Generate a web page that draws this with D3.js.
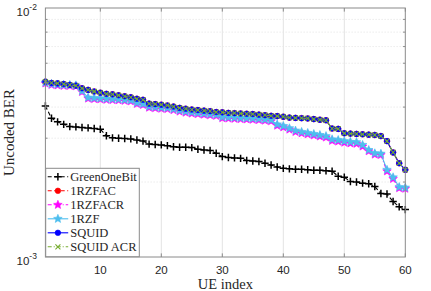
<!DOCTYPE html>
<html>
<head>
<meta charset="utf-8">
<script src="https://cdn.jsdelivr.net/npm/d3@7"></script>
<style>
  body { margin: 0; background: #fff; }
  svg { display: block; }
</style>
</head>
<body>
<div id="chart"></div>
<script>
// UE index 1..60
var ueIndex = d3.range(1, 61);

// uncoded BER per UE, in units of 1e-3
var greenOneBit = [4.04, 3.61, 3.49, 3.41, 3.34, 3.33, 3.31, 3.30, 3.28, 3.26,
  3.07, 3.01, 3.00, 2.99, 2.98, 2.95, 2.92, 2.84, 2.83, 2.82,
  2.80, 2.77, 2.76, 2.76, 2.75, 2.71, 2.69, 2.68, 2.61, 2.53,
  2.51, 2.50, 2.49, 2.44, 2.43, 2.42, 2.38, 2.34, 2.30, 2.27,
  2.26, 2.25, 2.25, 2.24, 2.23, 2.23, 2.22, 2.21, 2.11, 2.09,
  2.01, 2.00, 1.98, 1.97, 1.92, 1.80, 1.79, 1.67, 1.59, 1.55];

var squid = [5.06, 5.00, 4.98, 4.95, 4.91, 4.88, 4.76, 4.69, 4.62, 4.57,
  4.52, 4.50, 4.46, 4.42, 4.38, 4.32, 4.28, 4.13, 4.11, 4.09,
  4.06, 4.02, 3.97, 3.94, 3.91, 3.89, 3.87, 3.85, 3.82, 3.81,
  3.79, 3.78, 3.77, 3.76, 3.75, 3.73, 3.71, 3.69, 3.68, 3.66,
  3.63, 3.62, 3.61, 3.60, 3.58, 3.56, 3.54, 3.28, 3.27, 3.14,
  3.13, 3.12, 3.11, 3.10, 3.09, 3.06, 2.92, 2.63, 2.38, 2.24];

var rzfac = [5.06, 5.00, 4.98, 4.95, 4.91, 4.88, 4.76, 4.69, 4.62, 4.57,
  4.52, 4.50, 4.46, 4.42, 4.38, 4.32, 4.28, 4.13, 4.11, 4.09,
  4.06, 4.02, 3.97, 3.94, 3.91, 3.89, 3.87, 3.85, 3.82, 3.81,
  3.79, 3.78, 3.77, 3.76, 3.75, 3.73, 3.71, 3.69, 3.68, 3.66,
  3.63, 3.62, 3.61, 3.60, 3.58, 3.56, 3.54, 3.28, 3.27, 3.14,
  3.13, 3.12, 3.11, 3.10, 3.09, 3.06, 2.92, 2.63, 2.38, 2.24];

var squidAcr = [5.06, 5.00, 4.98, 4.95, 4.91, 4.88, 4.76, 4.69, 4.62, 4.57,
  4.52, 4.50, 4.46, 4.42, 4.38, 4.32, 4.28, 4.13, 4.11, 4.09,
  4.06, 4.02, 3.97, 3.94, 3.91, 3.89, 3.87, 3.85, 3.82, 3.81,
  3.79, 3.78, 3.77, 3.76, 3.75, 3.73, 3.71, 3.69, 3.68, 3.66,
  3.63, 3.62, 3.61, 3.60, 3.58, 3.56, 3.54, 3.28, 3.27, 3.14,
  3.13, 3.12, 3.11, 3.10, 3.09, 3.06, 2.92, 2.63, 2.38, 2.24];

var rzf = [5.02, 4.95, 4.93, 4.91, 4.91, 4.89, 4.64, 4.37, 4.35, 4.34,
  4.32, 4.31, 4.30, 4.28, 4.26, 4.16, 4.12, 4.02, 4.00, 3.98,
  3.97, 3.93, 3.88, 3.84, 3.81, 3.79, 3.77, 3.75, 3.73, 3.65,
  3.64, 3.63, 3.62, 3.61, 3.60, 3.59, 3.57, 3.55, 3.41, 3.36,
  3.29, 3.22, 3.18, 3.15, 3.12, 3.09, 3.06, 2.97, 2.95, 2.92,
  2.90, 2.89, 2.82, 2.69, 2.61, 2.60, 2.24, 2.09, 1.91, 1.90];

var rzfacr = [4.98, 4.91, 4.89, 4.87, 4.87, 4.85, 4.60, 4.33, 4.31, 4.30,
  4.28, 4.27, 4.26, 4.24, 4.22, 4.12, 4.08, 3.98, 3.96, 3.94,
  3.93, 3.89, 3.84, 3.80, 3.77, 3.75, 3.73, 3.71, 3.69, 3.61,
  3.60, 3.59, 3.58, 3.57, 3.56, 3.55, 3.53, 3.51, 3.37, 3.32,
  3.25, 3.18, 3.14, 3.11, 3.08, 3.05, 3.02, 2.93, 2.91, 2.88,
  2.86, 2.85, 2.78, 2.66, 2.58, 2.57, 2.21, 2.06, 1.89, 1.88];

var xTicks = [10, 20, 30, 40, 50, 60];
var yMinor = [2, 3, 4, 5, 6, 7, 8, 9];

var series = [
  {name: "GreenOneBit", values: greenOneBit, color: "#000000", dash: "4,2.5", marker: "plus"},
  {name: "1RZFAC", values: rzfac, color: "#ff0000", dash: "4,2.5", marker: "circle"},
  {name: "1RZFACR", values: rzfacr, color: "#ff00ff", dash: "4,2,1,2", marker: "star"},
  {name: "1RZF", values: rzf, color: "#4dbeee", dash: null, marker: "star"},
  {name: "SQUID", values: squid, color: "#0000ff", dash: null, marker: "circle"},
  {name: "SQUID ACR", values: squidAcr, color: "#77ac30", dash: "4,2,1,2", marker: "cross"}
];

var W = 431, H = 291;
var svg = d3.select("#chart").append("svg")
  .attr("width", W)
  .attr("height", H);

var x = d3.scaleLinear().domain([1, 60]).range([45.4, 405.3]);
var y = d3.scaleLog().domain([1e-3, 1e-2]).range([257, 8]);

var x0 = x.range()[0], x1 = x.range()[1];
var yTop = y.range()[1], yBot = y.range()[0];

svg.append("rect")
  .attr("x", x0).attr("y", yTop)
  .attr("width", x1 - x0).attr("height", yBot - yTop)
  .attr("fill", "#fff");

// grid
svg.append("g").selectAll("line").data(xTicks.slice(0, -1))
  .join("line")
  .attr("x1", d => x(d)).attr("x2", d => x(d))
  .attr("y1", yTop).attr("y2", yBot)
  .attr("stroke", "#e3e3e3").attr("stroke-width", 1);

svg.append("g").selectAll("line").data(yMinor)
  .join("line")
  .attr("x1", x0).attr("x2", x1)
  .attr("y1", d => y(d * 1e-3)).attr("y2", d => y(d * 1e-3))
  .attr("stroke", "#e6e6e6").attr("stroke-width", 0.8)
  .attr("stroke-dasharray", "1.5,1.5");

// plot clip
svg.append("clipPath").attr("id", "clip")
  .append("rect").attr("x", x0 - 6).attr("y", yTop).attr("width", x1 - x0 + 12).attr("height", yBot - yTop);

var starPath = function(r) {
  var pts = [];
  for (var i = 0; i < 10; i++) {
    var a = -Math.PI / 2 + i * Math.PI / 5;
    var rr = i % 2 === 0 ? r : r * 0.45;
    pts.push([rr * Math.cos(a), rr * Math.sin(a)]);
  }
  return "M" + pts.map(p => p[0].toFixed(2) + "," + p[1].toFixed(2)).join("L") + "Z";
};

function drawMarker(g, type, color, cx, cy) {
  if (type === "plus") {
    g.append("path")
      .attr("d", "M" + (cx - 3.7) + "," + cy + "H" + (cx + 3.7) + "M" + cx + "," + (cy - 3.7) + "V" + (cy + 3.7))
      .attr("stroke", color).attr("stroke-width", 1.5).attr("fill", "none");
  } else if (type === "circle") {
    g.append("circle").attr("cx", cx).attr("cy", cy).attr("r", 2.8)
      .attr("fill", color).attr("stroke", color).attr("stroke-width", 0.6);
  } else if (type === "star") {
    g.append("path").attr("d", starPath(4.5))
      .attr("transform", "translate(" + cx + "," + cy + ")")
      .attr("fill", color).attr("stroke", color).attr("stroke-width", 0.6);
  } else if (type === "cross") {
    g.append("path")
      .attr("d", "M" + (cx - 2.5) + "," + (cy - 2.5) + "L" + (cx + 2.5) + "," + (cy + 2.5) +
        "M" + (cx - 2.5) + "," + (cy + 2.5) + "L" + (cx + 2.5) + "," + (cy - 2.5))
      .attr("stroke", color).attr("stroke-width", 1.1).attr("fill", "none");
  }
}

var line = d3.line()
  .x((d, i) => x(ueIndex[i]))
  .y(d => y(d * 1e-3));

var plot = svg.append("g").attr("clip-path", "url(#clip)");

series.forEach(function(s) {
  var g = plot.append("g");
  g.append("path")
    .attr("d", line(s.values))
    .attr("fill", "none")
    .attr("stroke", s.color)
    .attr("stroke-width", 1.1)
    .attr("stroke-dasharray", s.dash);
  s.values.forEach(function(v, i) {
    drawMarker(g, s.marker, s.color, x(ueIndex[i]), y(v * 1e-3));
  });
});

// axes box and ticks
var axisColor = "#8a8a8a";
var axes = svg.append("g");
axes.append("rect")
  .attr("x", x0).attr("y", yTop)
  .attr("width", x1 - x0).attr("height", yBot - yTop)
  .attr("fill", "none").attr("stroke", axisColor).attr("stroke-width", 1);

axes.selectAll(".xt").data(xTicks).join("path")
  .attr("d", d => "M" + x(d) + "," + yBot + "v-3.6M" + x(d) + "," + yTop + "v3.6")
  .attr("stroke", axisColor).attr("fill", "none");

axes.selectAll(".yt").data(yMinor).join("path")
  .attr("d", d => "M" + x0 + "," + y(d * 1e-3) + "h2.2M" + x1 + "," + y(d * 1e-3) + "h-2.2")
  .attr("stroke", axisColor).attr("fill", "none");

var labelFont = "'Liberation Sans', Arial, sans-serif";
var serifFont = "'Liberation Serif', 'DejaVu Serif', serif";

svg.append("g").selectAll("text").data(xTicks).join("text")
  .attr("x", d => x(d)).attr("y", 274)
  .attr("text-anchor", "middle")
  .attr("font-family", labelFont).attr("font-size", 11.5)
  .attr("fill", "#262626")
  .text(d => d);

[[1e-2, "-2"], [1e-3, "-3"]].forEach(function(t) {
  var tx = svg.append("text")
    .attr("x", 16.5).attr("y", y(t[0]) + 7.5)
    .attr("font-family", labelFont).attr("font-size", 11.5)
    .attr("fill", "#262626");
  tx.append("tspan").text("10");
  tx.append("tspan").attr("dy", -6).attr("font-size", 8.5).text(t[1]);
});

svg.append("text")
  .attr("x", (x0 + x1) / 2).attr("y", 288.5)
  .attr("text-anchor", "middle")
  .attr("font-family", serifFont).attr("font-size", 14.5)
  .attr("fill", "#262626")
  .text("UE index");

svg.append("text")
  .attr("transform", "translate(13.5," + ((yTop + yBot) / 2) + ") rotate(-90)")
  .attr("text-anchor", "middle")
  .attr("font-family", serifFont).attr("font-size", 15)
  .attr("fill", "#262626")
  .text("Uncoded BER");

// legend
var leg = svg.append("g");
var lx = 45.7, ly = 168.3, lw = 93.6, lh = 88.4;
leg.append("rect")
  .attr("x", lx).attr("y", ly).attr("width", lw).attr("height", lh)
  .attr("fill", "#fff").attr("stroke", axisColor).attr("stroke-width", 1);

series.forEach(function(s, i) {
  var cy = ly + 8.5 + i * 14;
  var g = leg.append("g");
  g.append("line")
    .attr("x1", lx + 2).attr("x2", lx + 22.5)
    .attr("y1", cy).attr("y2", cy)
    .attr("stroke", s.color).attr("stroke-width", 1.1)
    .attr("stroke-dasharray", s.dash);
  drawMarker(g, s.marker, s.color, lx + 12.2, cy);
  g.append("text")
    .attr("x", lx + 24.5).attr("y", cy + 4.3)
    .attr("font-family", serifFont).attr("font-size", 12.5)
    .attr("fill", "#262626")
    .text(s.name);
});
</script>
</body>
</html>
